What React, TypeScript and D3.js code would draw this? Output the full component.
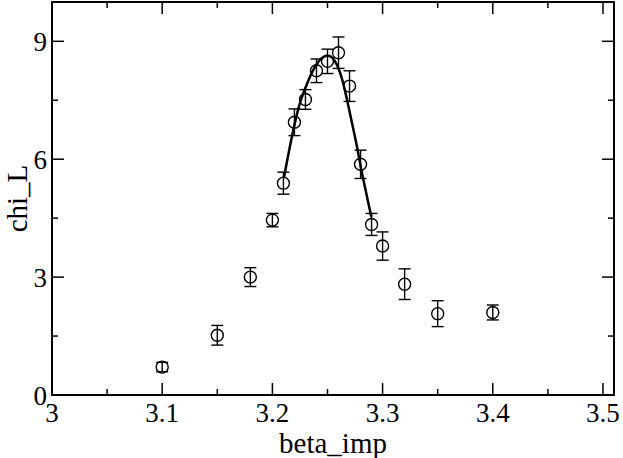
import React from "react";
import * as d3 from "d3";

// measured points
const beta = [3.1, 3.15, 3.18, 3.2, 3.21, 3.22, 3.23, 3.24, 3.25, 3.26, 3.27, 3.28, 3.29, 3.3, 3.32, 3.35, 3.4];
const chi = [0.71, 1.52, 3.0, 4.45, 5.39, 6.94, 7.52, 8.25, 8.49, 8.71, 7.86, 5.87, 4.34, 3.79, 2.82, 2.07, 2.1];
const chiErr = [0.12, 0.25, 0.24, 0.17, 0.28, 0.34, 0.25, 0.3, 0.31, 0.4, 0.39, 0.36, 0.28, 0.36, 0.39, 0.33, 0.19];

// fitted curve
const fitBeta = [3.2104, 3.2158, 3.2203, 3.2248, 3.2309, 3.2369, 3.243, 3.249, 3.2535, 3.258, 3.2627, 3.2672, 3.2717, 3.2762, 3.2808, 3.2853, 3.2898];
const fitChi = [5.52, 6.31, 6.91, 7.41, 7.88, 8.26, 8.52, 8.63, 8.6, 8.43, 8.09, 7.58, 6.99, 6.4, 5.72, 5.12, 4.53];

const xTicks = [3, 3.1, 3.2, 3.3, 3.4, 3.5];
const xMinor = [3.05, 3.15, 3.25, 3.35, 3.45];
const yTicks = [0, 3, 6, 9];
const yMinor = [1.5, 4.5, 7.5];

const W = 623, H = 458;
const left = 52, right = 614, top = 2, bottom = 395;
const serif = { fontFamily: "Liberation Serif, Times New Roman, Times, DejaVu Serif, serif" };

export default function App() {
    const x = d3.scaleLinear().domain([3, 3.51]).range([left, right]);
    const y = d3.scaleLinear().domain([0, 10]).range([bottom, top]);

    const line = d3.line<number>()
        .x((d, i) => x(fitBeta[i]))
        .y(d => y(d))
        .curve(d3.curveCatmullRom);

    const major = 12, minor = 6;

    return (
        <svg width={W} height={H} style={{ position: "absolute", left: 0, top: 0, background: "#fff" }}>
            {/* ticks, mirrored on all sides */}
            <g stroke="#000" strokeWidth={1.5}>
                {xTicks.map(t => (
                    <g key={"x" + t}>
                        <line x1={x(t)} x2={x(t)} y1={bottom} y2={bottom - major} />
                        <line x1={x(t)} x2={x(t)} y1={top} y2={top + major} />
                    </g>
                ))}
                {xMinor.map(t => (
                    <g key={"xm" + t}>
                        <line x1={x(t)} x2={x(t)} y1={bottom} y2={bottom - minor} />
                        <line x1={x(t)} x2={x(t)} y1={top} y2={top + minor} />
                    </g>
                ))}
                {yTicks.map(t => (
                    <g key={"y" + t}>
                        <line x1={left} x2={left + major} y1={y(t)} y2={y(t)} />
                        <line x1={right} x2={right - major} y1={y(t)} y2={y(t)} />
                    </g>
                ))}
                {yMinor.map(t => (
                    <g key={"ym" + t}>
                        <line x1={left} x2={left + minor} y1={y(t)} y2={y(t)} />
                        <line x1={right} x2={right - minor} y1={y(t)} y2={y(t)} />
                    </g>
                ))}
            </g>
            <rect x={left} y={top} width={right - left} height={bottom - top} fill="none" stroke="#000" strokeWidth={2} />

            {/* tick labels */}
            <g style={serif} fontSize={27} fill="#000">
                {xTicks.map(t => (
                    <text key={"xl" + t} x={x(t)} y={422} textAnchor="middle">{String(t)}</text>
                ))}
                {yTicks.map(t => (
                    <text key={"yl" + t} x={47} y={y(t) + 10} textAnchor="end">{String(t)}</text>
                ))}
            </g>

            {/* axis titles */}
            <text x={(left + right) / 2} y={453} textAnchor="middle" style={serif} fontSize={29}>beta_imp</text>
            <text transform={`translate(27,${(top + bottom) / 2}) rotate(-90)`} textAnchor="middle" style={serif} fontSize={29}>chi_L</text>

            {/* fit */}
            <path d={line(fitChi) || ""} fill="none" stroke="#000" strokeWidth={2.5} />

            {/* data with error bars */}
            <g stroke="#000" strokeWidth={1.4} fill="none">
                {beta.map((b, i) => {
                    const cx = x(b), cy = y(chi[i]);
                    const y0 = y(chi[i] - chiErr[i]), y1 = y(chi[i] + chiErr[i]);
                    return (
                        <g key={"p" + i}>
                            <line x1={cx} x2={cx} y1={y0} y2={y1} />
                            <line x1={cx - 6} x2={cx + 6} y1={y0} y2={y0} />
                            <line x1={cx - 6} x2={cx + 6} y1={y1} y2={y1} />
                            <circle cx={cx} cy={cy} r={6} />
                        </g>
                    );
                })}
            </g>
        </svg>
    );
}
